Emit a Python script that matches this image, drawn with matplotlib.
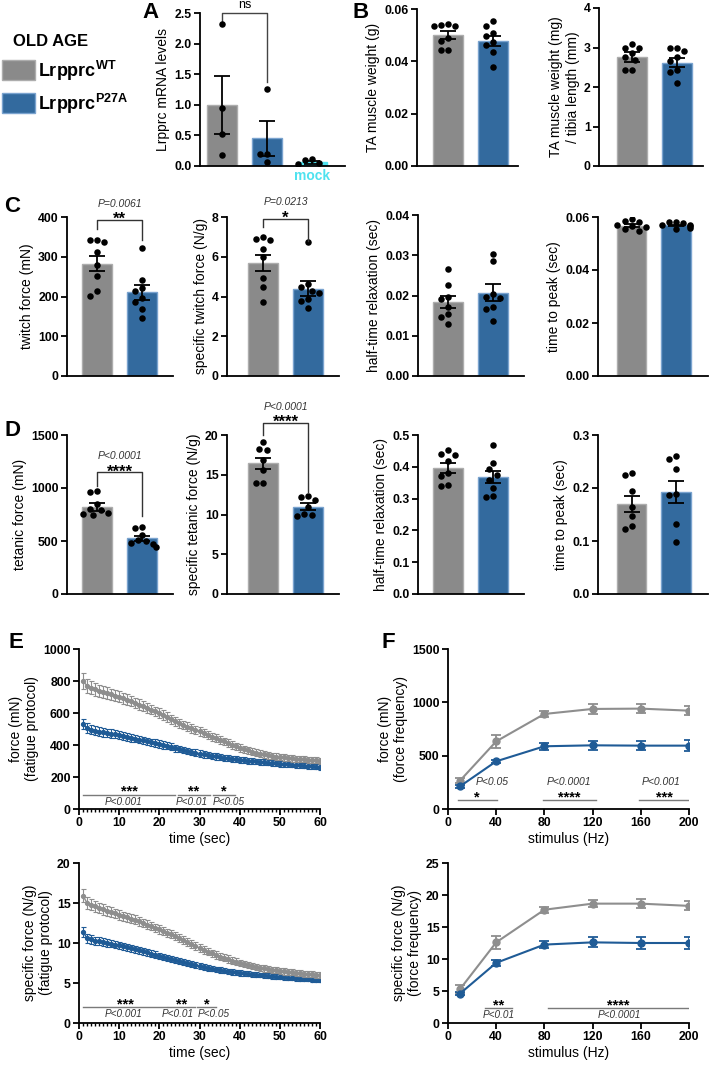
import numpy as np
import matplotlib
matplotlib.use('Agg')
import matplotlib.pyplot as plt
from matplotlib.patches import Rectangle

plt.rcParams['font.family'] = ['Liberation Sans', 'DejaVu Sans']
plt.rcParams['mathtext.fontset'] = 'custom'
plt.rcParams['mathtext.rm'] = 'Liberation Sans'
plt.rcParams['mathtext.bf'] = 'Liberation Sans:bold'

# ---- data ----
# A: Lrpprc mRNA
a_means = [1.0, 0.45, 0.06]
a_sems = [0.47, 0.28, 0.02]
a_wt = [2.32, 0.95, 0.53, 0.18]
a_p27 = [1.26, 0.2, 0.2, 0.06]
a_mock = [0.12, 0.10, 0.05, 0.04]

# B
b1_means = [0.0500, 0.0478]
b1_sems = [0.0015, 0.0020]
b1_wt = [0.0540, 0.0534, 0.0543, 0.0535, 0.0489, 0.0476, 0.0442, 0.0444]
b1_p27 = [0.0553, 0.0536, 0.0508, 0.0495, 0.0472, 0.0463, 0.0434, 0.0380]
b2_means = [2.76, 2.62]
b2_sems = [0.13, 0.11]
b2_wt = [3.08, 2.98, 2.98, 2.86, 2.77, 2.69, 2.43, 2.42]
b2_p27 = [3.0, 3.0, 2.9, 2.77, 2.67, 2.43, 2.39, 2.1]

# C: twitch
c1_means = [282, 211]
c1_sems = [19, 19]
c1_wt = [343, 343, 337, 312, 279, 252, 215, 202]
c1_p27 = [322, 242, 221, 215, 196, 185, 168, 146]
c2_means = [5.68, 4.40]
c2_sems = [0.42, 0.36]
c2_wt = [6.9, 6.98, 6.86, 6.39, 5.97, 4.95, 4.47, 3.73]
c2_p27 = [6.73, 4.61, 4.47, 4.19, 3.85, 3.76, 3.42, 4.3]
c3_means = [0.0184, 0.0207]
c3_sems = [0.0016, 0.0021]
c3_wt = [0.0267, 0.0225, 0.0196, 0.0192, 0.0171, 0.0153, 0.0146, 0.0128]
c3_p27 = [0.0304, 0.0286, 0.0204, 0.0193, 0.0171, 0.0167, 0.0137, 0.0196]
c4_means = [0.0567, 0.0568]
c4_sems = [0.0005, 0.0003]
c4_wt = [0.0594, 0.0585, 0.0580, 0.0570, 0.0565, 0.0562, 0.0555, 0.0547]
c4_p27 = [0.0583, 0.0580, 0.0578, 0.0570, 0.0568, 0.0565, 0.0560, 0.0555]

# D: tetanic
d1_means = [818, 525]
d1_sems = [38, 25]
d1_wt = [968, 959, 847, 800, 768, 752, 742, 790]
d1_p27 = [634, 618, 561, 497, 481, 443, 471, 505]
d2_means = [16.45, 11.0]
d2_sems = [0.7, 0.42]
d2_wt = [19.15, 18.3, 18.1, 16.9, 15.55, 13.98, 13.94]
d2_p27 = [12.37, 12.25, 11.8, 10.9, 10.1, 9.96, 9.83]
d3_means = [0.397, 0.368]
d3_sems = [0.016, 0.019]
d3_wt = [0.453, 0.439, 0.437, 0.418, 0.379, 0.342, 0.339, 0.370]
d3_p27 = [0.468, 0.413, 0.392, 0.374, 0.358, 0.332, 0.307, 0.305]
d4_means = [0.170, 0.193]
d4_sems = [0.015, 0.021]
d4_wt = [0.229, 0.225, 0.195, 0.164, 0.148, 0.129, 0.123]
d4_p27 = [0.261, 0.255, 0.236, 0.189, 0.186, 0.132, 0.098]

# E: fatigue protocol, one point per second
fat_t = np.arange(1, 61)
wt_force = [800, 770, 758, 748, 740, 732, 724, 716, 709, 702,
            693, 684, 674, 664, 653, 643, 632, 621, 610, 599,
            587, 575, 562, 549, 537, 526, 515, 505, 495, 485,
            474, 463, 453, 443, 433, 422, 411, 401, 391, 382,
            374, 366, 359, 352, 346, 341, 336, 332, 328, 325,
            322, 319, 316, 314, 312, 310, 308, 306, 304, 302]
wt_force_err = [48, 45, 42, 40, 38, 37, 36, 35, 35, 34,
                34, 33, 33, 32, 32, 31, 31, 30, 30, 30,
                29, 29, 28, 28, 28, 27, 27, 27, 26, 26,
                26, 25, 25, 25, 24, 24, 24, 23, 23, 23,
                22, 22, 22, 22, 21, 21, 21, 21, 20, 20,
                20, 20, 20, 19, 19, 19, 19, 19, 19, 19]
p27_force = [530, 505, 496, 490, 484, 479, 475, 471, 468, 464,
             458, 452, 446, 440, 434, 429, 423, 417, 412, 406,
             400, 394, 388, 381, 375, 369, 363, 357, 352, 346,
             341, 337, 333, 329, 325, 321, 318, 314, 311, 308,
             305, 302, 299, 297, 294, 292, 290, 287, 285, 283,
             281, 279, 277, 275, 273, 271, 269, 267, 265, 262]
p27_force_err = [30, 30, 29, 28, 28, 27, 27, 26, 26, 26,
                 25, 25, 25, 24, 24, 24, 23, 23, 23, 23,
                 22, 22, 22, 22, 21, 21, 21, 21, 21, 20,
                 20, 20, 20, 20, 20, 19, 19, 19, 19, 19,
                 19, 19, 18, 18, 18, 18, 18, 18, 18, 18,
                 18, 17, 17, 17, 17, 17, 17, 17, 17, 17]
wt_spec = [15.9, 15.0, 14.8, 14.6, 14.4, 14.2, 14.0, 13.85, 13.7, 13.5,
           13.35, 13.2, 13.05, 12.9, 12.7, 12.5, 12.3, 12.1, 11.9, 11.7,
           11.5, 11.3, 11.1, 10.85, 10.6, 10.35, 10.1, 9.85, 9.6, 9.4,
           9.15, 8.9, 8.7, 8.5, 8.3, 8.15, 8.0, 7.8, 7.65, 7.5,
           7.38, 7.26, 7.14, 7.02, 6.9, 6.82, 6.74, 6.66, 6.58, 6.5,
           6.44, 6.38, 6.32, 6.26, 6.2, 6.16, 6.12, 6.08, 6.04, 6.0]
wt_spec_err = [0.8, 0.75, 0.7, 0.68, 0.66, 0.64, 0.62, 0.6, 0.6, 0.58,
               0.58, 0.56, 0.56, 0.55, 0.55, 0.54, 0.54, 0.53, 0.53, 0.52,
               0.52, 0.51, 0.51, 0.5, 0.5, 0.49, 0.49, 0.48, 0.48, 0.47,
               0.47, 0.46, 0.46, 0.45, 0.45, 0.44, 0.44, 0.43, 0.43, 0.42,
               0.42, 0.41, 0.41, 0.4, 0.4, 0.4, 0.39, 0.39, 0.39, 0.38,
               0.38, 0.38, 0.37, 0.37, 0.37, 0.36, 0.36, 0.36, 0.36, 0.36]
p27_spec = [11.4, 10.6, 10.45, 10.3, 10.2, 10.1, 10.0, 9.9, 9.8, 9.7,
            9.58, 9.46, 9.34, 9.22, 9.1, 8.96, 8.82, 8.68, 8.54, 8.4,
            8.26, 8.12, 7.98, 7.84, 7.7, 7.58, 7.46, 7.34, 7.22, 7.1,
            7.0, 6.9, 6.8, 6.7, 6.6, 6.53, 6.46, 6.39, 6.32, 6.25,
            6.2, 6.15, 6.1, 6.05, 6.0, 5.95, 5.9, 5.85, 5.8, 5.75,
            5.71, 5.67, 5.63, 5.59, 5.55, 5.51, 5.47, 5.43, 5.39, 5.35]
p27_spec_err = [0.6, 0.55, 0.52, 0.5, 0.5, 0.48, 0.48, 0.46, 0.46, 0.45,
                0.45, 0.44, 0.44, 0.43, 0.43, 0.42, 0.42, 0.41, 0.41, 0.4,
                0.4, 0.39, 0.39, 0.38, 0.38, 0.37, 0.37, 0.36, 0.36, 0.35,
                0.35, 0.35, 0.34, 0.34, 0.34, 0.33, 0.33, 0.33, 0.32, 0.32,
                0.32, 0.31, 0.31, 0.31, 0.3, 0.3, 0.3, 0.3, 0.29, 0.29,
                0.29, 0.29, 0.28, 0.28, 0.28, 0.28, 0.28, 0.27, 0.27, 0.27]

# F: force frequency
stim_hz = [10, 40, 80, 120, 160, 200]
wt_ff = [266, 634, 891, 938, 941, 922]
wt_ff_err = [25, 62, 32, 45, 40, 40]
p27_ff = [213, 447, 588, 597, 594, 594]
p27_ff_err = [15, 12, 35, 40, 45, 50]
wt_ffs = [5.3, 12.6, 17.7, 18.65, 18.65, 18.3]
wt_ffs_err = [0.6, 1.0, 0.5, 0.6, 0.7, 0.7]
p27_ffs = [4.6, 9.4, 12.25, 12.6, 12.5, 12.5]
p27_ffs_err = [0.3, 0.5, 0.6, 0.8, 0.9, 0.9]

# ---- style ----
GRAY = '#8a8a8a'
GRAY_EDGE = '#adadad'
BLUE = '#336a9e'
BLUE_EDGE = '#7aa3cf'
MOCK = '#4fe2ef'
LGRAY = '#8e8e8e'
LBLUE = '#1f5b96'
TICK_FS = 8.8

W, H = 709, 1069
fig = plt.figure(figsize=(W / 100, H / 100), dpi=100)


def box(l, t, r, b):
    return fig.add_axes([l / W, 1 - b / H, (r - l) / W, (b - t) / H])


def style(ax, ticks, fmt, ylabel):
    for s in ['top', 'right']:
        ax.spines[s].set_visible(False)
    for s in ['left', 'bottom']:
        ax.spines[s].set_linewidth(1.3)
    ax.tick_params(direction='out', length=4, width=1.3, pad=2)
    ax.set_yticks(ticks)
    ax.set_yticklabels([fmt.format(t) for t in ticks], fontweight='bold', fontsize=TICK_FS)
    ax.set_ylabel(ylabel, fontsize=10, labelpad=3)


def swarm(ax, xc, vals, d=7.2):
    order = np.argsort(vals)[::-1]
    placed = []
    x0 = ax.transData.transform((xc, 0))[0]
    for i in order:
        yp = ax.transData.transform((xc, vals[i]))[1]
        for k in [0, -0.5, 0.5, -1, 1, -1.5, 1.5, -2, 2]:
            xp = x0 + k * d
            if all((xp - a) ** 2 + (yp - b) ** 2 >= (0.95 * d) ** 2 for a, b in placed):
                break
        placed.append((xp, yp))
    pts = ax.transData.inverted().transform(placed)
    ax.scatter(pts[:, 0], pts[:, 1], s=22, color='black', zorder=3, linewidths=0)


def bar_panel(ax, means, sems, groups, xlim, ylim, ticks, fmt, ylabel,
              colors=(GRAY, BLUE), edges=(GRAY_EDGE, BLUE_EDGE)):
    xs = np.arange(len(means))
    ax.set_xlim(xlim)
    ax.set_ylim(ylim)
    ax.bar(xs, means, width=0.66, color=colors, edgecolor=edges, linewidth=1.0, zorder=1)
    for x, pts in zip(xs, groups):
        swarm(ax, x, pts)
    ax.errorbar(xs, means, yerr=sems, fmt='none', ecolor='black', elinewidth=1.3,
                capsize=6, capthick=1.3, zorder=4)
    ax.set_xticks([])
    style(ax, ticks, fmt, ylabel)


def bracket(ax, y, yl, yr, stars, ptxt):
    ax.plot([0, 0, 1, 1], [yl, y, y, yr], color='#333333', lw=1.0, clip_on=False, zorder=5)
    ax.annotate(stars, (0.5, y), xytext=(0, -3), textcoords='offset points',
                ha='center', va='baseline', fontsize=12, fontweight='bold', annotation_clip=False)
    ax.annotate(ptxt, (0.5, y), xytext=(0, 9.5), textcoords='offset points',
                ha='center', va='baseline', fontsize=7.5, style='italic', color='#333333',
                annotation_clip=False)


# ---- A ----
axA = box(200, 13, 345, 166)
bar_panel(axA, a_means, a_sems, [a_wt, a_p27, a_mock], (-0.49, 2.73), (0, 2.5),
          [0, 0.5, 1.0, 1.5, 2.0, 2.5], '{:.1f}', 'Lrpprc mRNA levels',
          colors=(GRAY, BLUE, MOCK), edges=(GRAY_EDGE, BLUE_EDGE, MOCK))
axA.plot([0, 0, 1, 1], [2.37, 2.5, 2.5, 1.37], color='#444444', lw=1.0, clip_on=False)
axA.text(0.5, 2.54, 'ns', ha='center', va='bottom', fontsize=9)
axA.text(2, -0.05, 'mock', ha='center', va='top', fontsize=10, fontweight='bold', color=MOCK)

# legend
fig.text(13 / W, 1 - 42 / H, 'OLD AGE', fontsize=12, fontweight='bold', va='center')
fig.patches.append(Rectangle((2 / W, 1 - 80 / H), 33 / W, 20 / H, transform=fig.transFigure,
                             facecolor=GRAY, edgecolor=GRAY_EDGE, lw=1))
fig.patches.append(Rectangle((2 / W, 1 - 113 / H), 33 / W, 20 / H, transform=fig.transFigure,
                             facecolor=BLUE, edgecolor=BLUE_EDGE, lw=1))
fig.text(38 / W, 1 - 71 / H, r'Lrpprc$^{\mathbf{WT}}$', fontsize=13, fontweight='bold', va='center')
fig.text(38 / W, 1 - 104 / H, r'Lrpprc$^{\mathbf{P27A}}$', fontsize=13, fontweight='bold', va='center')

# ---- B ----
axB1 = box(417, 9, 518, 166)
bar_panel(axB1, b1_means, b1_sems, [b1_wt, b1_p27], (-0.69, 1.56), (0, 0.06),
          [0, 0.02, 0.04, 0.06], '{:.2f}', 'TA muscle weight (g)')
axB2 = box(599, 8, 703, 166)
bar_panel(axB2, b2_means, b2_sems, [b2_wt, b2_p27], (-0.73, 1.58), (0, 4),
          [0, 1, 2, 3, 4], '{:d}', 'TA muscle weight (mg)\n/ tibia length (mm)')

# ---- C ----
axC1 = box(67, 217, 173, 376)
bar_panel(axC1, c1_means, c1_sems, [c1_wt, c1_p27], (-0.67, 1.69), (0, 400),
          [0, 100, 200, 300, 400], '{:d}', 'twitch force (mN)')
bracket(axC1, 393, 371, 342, '**', 'P=0.0061')
axC2 = box(227, 217, 339, 376)
bar_panel(axC2, c2_means, c2_sems, [c2_wt, c2_p27], (-0.8, 1.69), (0, 8),
          [0, 2, 4, 6, 8], '{:d}', 'specific twitch force (N/g)')
bracket(axC2, 7.92, 7.5, 6.8, '*', 'P=0.0213')
axC3 = box(418, 215, 524, 376)
bar_panel(axC3, c3_means, c3_sems, [c3_wt, c3_p27], (-0.67, 1.69), (0, 0.04),
          [0, 0.01, 0.02, 0.03, 0.04], '{:.2f}', 'half-time relaxation (sec)')
axC4 = box(598, 217, 708, 376)
bar_panel(axC4, c4_means, c4_sems, [c4_wt, c4_p27], (-0.76, 1.72), (0, 0.06),
          [0, 0.02, 0.04, 0.06], '{:.2f}', 'time to peak (sec)')

# ---- D ----
axD1 = box(67, 435, 173, 594)
bar_panel(axD1, d1_means, d1_sems, [d1_wt, d1_p27], (-0.67, 1.69), (0, 1500),
          [0, 500, 1000, 1500], '{:d}', 'tetanic force (mN)')
bracket(axD1, 1150, 1022, 736, '****', 'P<0.0001')
axD2 = box(227, 435, 339, 594)
bar_panel(axD2, d2_means, d2_sems, [d2_wt, d2_p27], (-0.8, 1.69), (0, 20),
          [0, 5, 10, 15, 20], '{:d}', 'specific tetanic force (N/g)')
bracket(axD2, 21.5, 20, 12.8, '****', 'P<0.0001')
axD3 = box(418, 435, 524, 594)
bar_panel(axD3, d3_means, d3_sems, [d3_wt, d3_p27], (-0.67, 1.69), (0, 0.5),
          [0, 0.1, 0.2, 0.3, 0.4, 0.5], '{:.1f}', 'half-time relaxation (sec)')
axD4 = box(598, 435, 708, 594)
bar_panel(axD4, d4_means, d4_sems, [d4_wt, d4_p27], (-0.76, 1.72), (0, 0.3),
          [0, 0.1, 0.2, 0.3], '{:.1f}', 'time to peak (sec)')


# ---- E / F line plots ----
def line_axes(ax, xlim, xticks, ylim, yticks, ylabel, xlabel, minor=None):
    ax.set_xlim(xlim)
    ax.set_ylim(ylim)
    ax.set_xticks(xticks)
    ax.set_xticklabels([str(t) for t in xticks], fontweight='bold', fontsize=TICK_FS)
    if minor is not None:
        ax.set_xticks(minor, minor=True)
        ax.tick_params(axis='x', which='minor', direction='out', length=2.5, width=1.0)
    style(ax, yticks, '{:d}', ylabel)
    ax.set_xlabel(xlabel, fontsize=10, labelpad=2)


def sig(ax, x0, x1, y, stars, ptxt, px, p_above=False):
    ax.plot([x0, x1], [y, y], color='#7a7a7a', lw=1.0, zorder=5)
    xm = (x0 + x1) / 2
    ax.annotate(stars, (xm, y), xytext=(0, -3), textcoords='offset points',
                ha='center', va='bottom', fontsize=10.5, fontweight='bold')
    if p_above:
        ax.annotate(ptxt, (px, y), xytext=(0, 11), textcoords='offset points',
                    ha='center', va='baseline', fontsize=7.5, style='italic', color='#333333')
    else:
        ax.annotate(ptxt, (px, y), xytext=(0, -1.5), textcoords='offset points',
                    ha='center', va='top', fontsize=7.2, style='italic', color='#333333')


def fatigue(ax, wt, wte, p27, p27e):
    ax.errorbar(fat_t, wt, yerr=wte, color=LGRAY, marker='o', ms=2.8, lw=1.0,
                elinewidth=0.8, capsize=1.8, capthick=0.8, zorder=3)
    ax.errorbar(fat_t, p27, yerr=p27e, color=LBLUE, marker='o', ms=2.8, lw=1.0,
                elinewidth=0.8, capsize=1.8, capthick=0.8, zorder=2)


axE1 = box(79, 649, 320, 809)
fatigue(axE1, wt_force, wt_force_err, p27_force, p27_force_err)
line_axes(axE1, (0, 60), [0, 10, 20, 30, 40, 50, 60], (0, 1000), [0, 200, 400, 600, 800, 1000],
          'force (mN)\n(fatigue protocol)', 'time (sec)', minor=np.arange(0, 61))
sig(axE1, 1, 24, 90, '***', 'P<0.001', 11.2)
sig(axE1, 24.6, 32.6, 90, '**', 'P<0.01', 28.0)
sig(axE1, 33.4, 38.8, 90, '*', 'P<0.05', 37.4)

axE2 = box(79, 863, 320, 1023)
fatigue(axE2, wt_spec, wt_spec_err, p27_spec, p27_spec_err)
line_axes(axE2, (0, 60), [0, 10, 20, 30, 40, 50, 60], (0, 20), [0, 5, 10, 15, 20],
          'specific force (N/g)\n(fatigue protocol)', 'time (sec)', minor=np.arange(0, 61))
sig(axE2, 1.1, 21.8, 1.96, '***', 'P<0.001', 11.2)
sig(axE2, 22.2, 28.9, 1.96, '**', 'P<0.01', 24.5)
sig(axE2, 29.5, 34.1, 1.96, '*', 'P<0.05', 33.6)


def freq(ax, wt, wte, p27, p27e):
    ax.errorbar(stim_hz, wt, yerr=wte, color=LGRAY, marker='o', ms=5, lw=1.5,
                elinewidth=1.3, capsize=3.5, capthick=1.3, zorder=3)
    ax.errorbar(stim_hz, p27, yerr=p27e, color=LBLUE, marker='o', ms=5, lw=1.5,
                elinewidth=1.3, capsize=3.5, capthick=1.3, zorder=3)


axF1 = box(448, 649, 689, 809)
freq(axF1, wt_ff, wt_ff_err, p27_ff, p27_ff_err)
line_axes(axF1, (0, 200), [0, 40, 80, 120, 160, 200], (0, 1500), [0, 500, 1000, 1500],
          'force (mN)\n(force frequency)', 'stimulus (Hz)')
sig(axF1, 8, 40.5, 81, '*', 'P<0.05', 36.4, p_above=True)
sig(axF1, 79, 123, 81, '****', 'P<0.0001', 100, p_above=True)
sig(axF1, 158.6, 200, 81, '***', 'P<0.001', 177, p_above=True)

axF2 = box(448, 863, 689, 1023)
freq(axF2, wt_ffs, wt_ffs_err, p27_ffs, p27_ffs_err)
line_axes(axF2, (0, 200), [0, 40, 80, 120, 160, 200], (0, 25), [0, 5, 10, 15, 20, 25],
          'specific force (N/g)\n(force frequency)', 'stimulus (Hz)')
sig(axF2, 31, 53, 2.34, '**', 'P<0.01', 42)
sig(axF2, 83, 200, 2.34, '****', 'P<0.0001', 142)

# panel letters
for lab, x, y in [('A', 142, 12), ('B', 352, 12), ('C', 4, 207), ('D', 4, 430),
                  ('E', 9, 642), ('F', 381, 642)]:
    fig.text(x / W, 1 - y / H, lab, fontsize=16, fontweight='bold', va='center', ha='left')

fig.savefig('out.png', dpi=100)
